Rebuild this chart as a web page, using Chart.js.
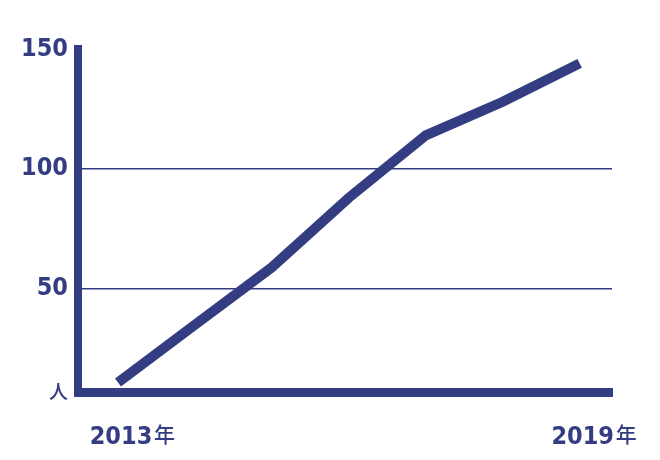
<!DOCTYPE html>
<html>
<head>
<meta charset="utf-8">
<script src="https://cdn.jsdelivr.net/npm/chart.js@4"></script>
<style>
  html, body { margin: 0; padding: 0; background: #fff; }
  #wrap { width: 660px; height: 460px; }
</style>
</head>
<body>
<div id="wrap"><canvas id="mycanvas"></canvas></div>
<script>
var years = [2013, 2014, 2015, 2016, 2017, 2018, 2019];
var people = [11, 35, 59, 88, 114, 128, 144];
var yTicks = [7, 50, 100, 150];
var xTicks = [2013, 2019];
var yUnit = '人';
var xUnit = '年';

var navy = '#343d82';
var numFont = "'DejaVu Sans Condensed', 'Liberation Sans Narrow', sans-serif";
var cjkFont = "'Noto Sans CJK JP', sans-serif";

var points = [];
for (var i in years) {
	points.push({x: years[i], y: people[i]});
}

// draws the small 年 after each year label
var unitPlugin = {
	id: 'unit',
	afterDraw: function(chart) {
		var ctx = chart.ctx;
		var xs = chart.scales.x;
		ctx.save();
		ctx.fillStyle = navy;
		ctx.font = '500 21px ' + cjkFont;
		ctx.textBaseline = 'middle';
		ctx.textAlign = 'left';
		xTicks.forEach(function(v) {
			var px = xs.getPixelForValue(v);
			ctx.fillText(xUnit, px + 36, 434);
		});
		ctx.restore();
	}
};

var ctx = document.getElementById('mycanvas');
var lineGraph = new Chart(ctx, {
	type: 'line',
	data: {
		datasets: [{
			data: points,
			borderColor: navy,
			borderWidth: 10,
			pointRadius: 0,
			tension: 0,
			borderCapStyle: 'butt'
		}]
	},
	options: {
		responsive: true,
		maintainAspectRatio: false,
		animation: false,
		layout: { padding: { top: 49, right: 48, bottom: 0, left: 0 } },
		plugins: { legend: { display: false }, tooltip: { enabled: false } },
		scales: {
			x: {
				type: 'linear',
				min: 2012.48,
				max: 2019.42,
				afterBuildTicks: function(scale) {
					scale.ticks = xTicks.map(function(v) { return {value: v}; });
				},
				afterFit: function(scale) { scale.height = 68; },
				grid: { display: false },
				border: { display: true, color: navy, width: 9 },
				ticks: {
					color: navy,
					padding: 22,
					maxRotation: 0,
					labelOffset: 3,
					font: { family: numFont, size: 25, weight: 'bold' },
					callback: function(v) { return String(v); }
				}
			},
			y: {
				min: 7,
				max: 150,
				afterBuildTicks: function(scale) {
					scale.ticks = yTicks.map(function(v) { return {value: v}; });
				},
				afterFit: function(scale) { scale.width = 78; },
				grid: {
					drawTicks: false,
					lineWidth: 1.5,
					color: function(c) {
						var v = c.tick ? c.tick.value : null;
						return (v === 50 || v === 100) ? navy : 'rgba(0,0,0,0)';
					}
				},
				border: { display: true, color: navy, width: 8 },
				ticks: {
					color: navy,
					padding: 10,
					font: function(c) {
						if (c.tick && c.tick.value === yTicks[0]) {
							return { family: cjkFont, size: 19, weight: '500' };
						}
						return { family: numFont, size: 25, weight: 'bold' };
					},
					callback: function(v) { return v === yTicks[0] ? yUnit : String(v); }
				}
			}
		}
	},
	plugins: [unitPlugin]
});
</script>
</body>
</html>
